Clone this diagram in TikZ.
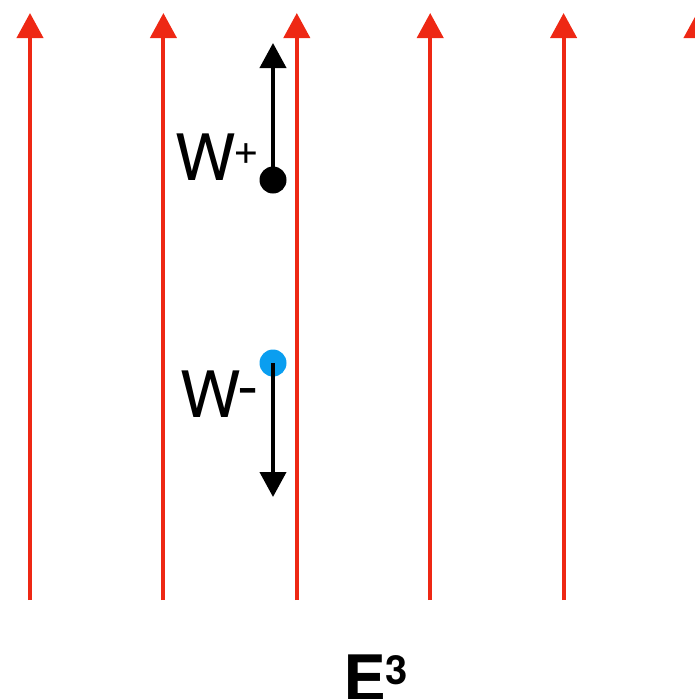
\documentclass[tikz,border=0pt]{standalone}
\usepackage{fontspec}
\setmainfont{TeX Gyre Heros}
\usetikzlibrary{arrows.meta}
\definecolor{fieldred}{RGB}{238,40,20}
\definecolor{chargeblue}{RGB}{10,158,240}
\begin{document}
\begin{tikzpicture}[x=1pt,y=-1pt,
  fieldline/.style={draw=fieldred,line width=4pt,-{Triangle[width=26pt,length=25pt]}},
  spinarrow/.style={draw=black,line width=4pt,-{Triangle[width=26pt,length=25pt]}},
  charge/.style={circle,inner sep=0pt,minimum size=27pt},
  big/.style={inner sep=0pt,font=\fontsize{64}{70}\selectfont},
  sup/.style={inner sep=0pt,font=\fontsize{44}{50}\selectfont}]
\useasboundingbox (0,0) rectangle (695,699);
% uniform field lines
\foreach \i/\x in {1/30,2/163.4,3/296.8,4/430.2,5/563.6,6/697}{
  \coordinate (b\i) at (\x,600);
  \coordinate (t\i) at (\x,13);
  \draw[fieldline] (b\i) -- (t\i);
}
% W+ with its arrow
\coordinate (wpTip) at (273,43);
\draw[spinarrow] (273,180) coordinate (wpStart) -- (wpTip);
\node[charge,fill=black] (wp) at (wpStart) {};
\node[big,anchor=base west] (wpW) at (175,180) {W};
\node[sup] (wpS) at (246,154) {+};
% W- with its arrow
\node[charge,fill=chargeblue] (wm) at (273,363) {};
\coordinate (wmTip) at (273,497);
\draw[spinarrow] (wm.center) -- (wmTip);
\node[big,anchor=base west] (wmW) at (180,417) {W};
\node[big,anchor=base west] (wmS) at (237,408) {-};
% space label
\node[big,anchor=base west,font=\fontsize{64}{70}\selectfont\bfseries] (eE) at (343,701) {E};
\node[inner sep=0pt,font=\fontsize{40}{46}\selectfont\bfseries] (e3) at (397,670) {3};
\end{tikzpicture}
\end{document}
